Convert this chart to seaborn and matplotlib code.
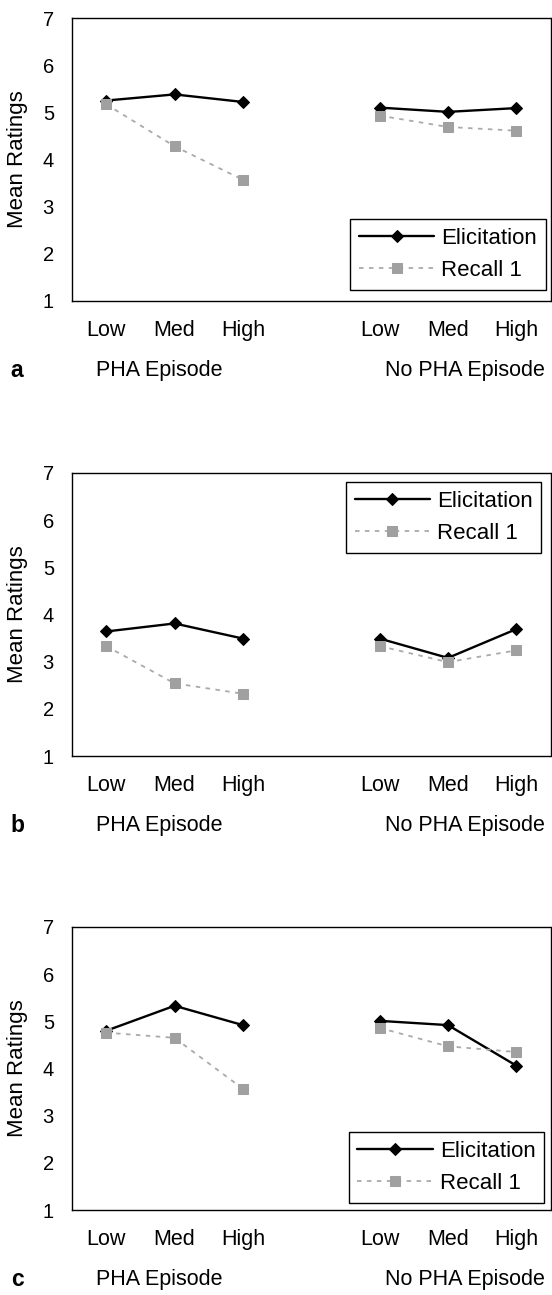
import numpy as np
import pandas as pd
import matplotlib
matplotlib.use("Agg")
import matplotlib.pyplot as plt
from matplotlib.transforms import blended_transform_factory
import seaborn as sns

# ---------------- data ----------------
levels = ["Low", "Med", "High"]
groups = ["PHA Episode", "No PHA Episode"]
panels = ["a", "b", "c"]
series = ["Elicitation", "Recall 1"]

# values per panel: [PHA Low, Med, High, No PHA Low, Med, High]
elic_a = [5.25, 5.38, 5.22, 5.10, 5.01, 5.09]
recall_a = [5.17, 4.28, 3.57, 4.93, 4.69, 4.61]
elic_b = [3.64, 3.81, 3.49, 3.49, 3.08, 3.69]
recall_b = [3.33, 2.54, 2.32, 3.33, 2.99, 3.24]
elic_c = [4.80, 5.33, 4.92, 5.01, 4.92, 4.06]
recall_c = [4.76, 4.65, 3.57, 4.86, 4.47, 4.35]

panel_data = {
    "a": {"Elicitation": elic_a, "Recall 1": recall_a},
    "b": {"Elicitation": elic_b, "Recall 1": recall_b},
    "c": {"Elicitation": elic_c, "Recall 1": recall_c},
}

rows = []
for p in panels:
    for s in series:
        vals = panel_data[p][s]
        for gi, g in enumerate(groups):
            for li, lv in enumerate(levels):
                rows.append(dict(panel=p, series=s, group=g,
                                 level=lv, pos=gi * 4 + li,
                                 value=vals[gi * 3 + li]))
df = pd.DataFrame(rows)

# ---------------- style ----------------
sns.set_style("white")
plt.rcParams["font.family"] = ["Liberation Sans", "DejaVu Sans"]
plt.rcParams["text.color"] = "black"
plt.rcParams["axes.labelcolor"] = "black"
plt.rcParams["xtick.color"] = "black"
plt.rcParams["ytick.color"] = "black"

styles = {
    "Elicitation": dict(color="black", marker="D", markersize=6.0,
                        linewidth=1.7, linestyle="-",
                        markerfacecolor="black", markeredgecolor="black"),
    "Recall 1": dict(color="#aaaaaa", marker="s", markersize=7.5,
                     linewidth=1.3, linestyle=(0, (2.5, 3.0)),
                     markerfacecolor="#a0a0a0", markeredgecolor="#a0a0a0"),
}

fig = plt.figure(figsize=(5.52, 12.95), dpi=100)
W, H = 552.0, 1295.0
left_px, right_px = 72.0, 550.5
ax_h_px = 283.0
bottoms_px = {"a": 301.0, "b": 756.0, "c": 1210.0}
legend_spec = {
    "a": ("lower right", (0.99, 0.039)),
    "b": ("upper right", (0.981, 0.968)),
    "c": ("lower right", (0.987, 0.025)),
}

for p in panels:
    b = bottoms_px[p]
    ax = fig.add_axes([left_px / W, 1 - b / H, (right_px - left_px) / W, ax_h_px / H])
    sub = df[df.panel == p]
    handles = {}
    for s in series:
        for g in groups:
            d = sub[(sub.series == s) & (sub.group == g)]
            sns.lineplot(data=d, x="pos", y="value", ax=ax, legend=False,
                         estimator=None, sort=False, **styles[s])
            handles[s] = ax.lines[-1]

    ax.set_xlim(-0.5, 6.5)
    ax.set_ylim(1, 7)
    ax.set_yticks(range(1, 8))
    ax.set_xticks([0, 1, 2, 4, 5, 6])
    ax.set_xticklabels(levels + levels)
    ax.set_xticks(np.arange(-0.5, 7.0, 1.0), minor=True)
    ax.tick_params(axis="x", which="major", length=0, pad=14, labelsize=15.5)
    ax.tick_params(axis="x", which="minor", length=5, width=1, direction="out",
                   color="black")
    ax.tick_params(axis="y", which="major", length=5, width=1, direction="out",
                   pad=8.0, labelsize=14.5, color="black")
    ax.set_xlabel("")
    ax.set_ylabel("Mean Ratings", fontsize=16)
    ax.yaxis.set_label_coords(-0.092, 0.5)
    for sp in ax.spines.values():
        sp.set_visible(True)
        sp.set_color("black")
        sp.set_linewidth(1.0)

    tr = blended_transform_factory(ax.transData, ax.transAxes)
    ax.text(-0.15, -0.247, groups[0], transform=tr, ha="left", va="center",
            fontsize=15.5)
    ax.text(6.42, -0.247, groups[1], transform=tr, ha="right", va="center",
            fontsize=15.5)
    ax.text(-0.128, -0.247, p, transform=ax.transAxes, ha="left", va="center",
            fontsize=16.5, fontweight="bold")

    loc, anchor = legend_spec[p]
    leg = ax.legend([handles[s] for s in series], series, loc=loc,
                    bbox_to_anchor=anchor, borderaxespad=0, fontsize=16,
                    frameon=True, fancybox=False, framealpha=1,
                    edgecolor="black", handlelength=3.4, handletextpad=0.3,
                    labelspacing=0.5, borderpad=0.4)
    leg.get_frame().set_linewidth(1.0)

fig.savefig("out.png", dpi=100)
